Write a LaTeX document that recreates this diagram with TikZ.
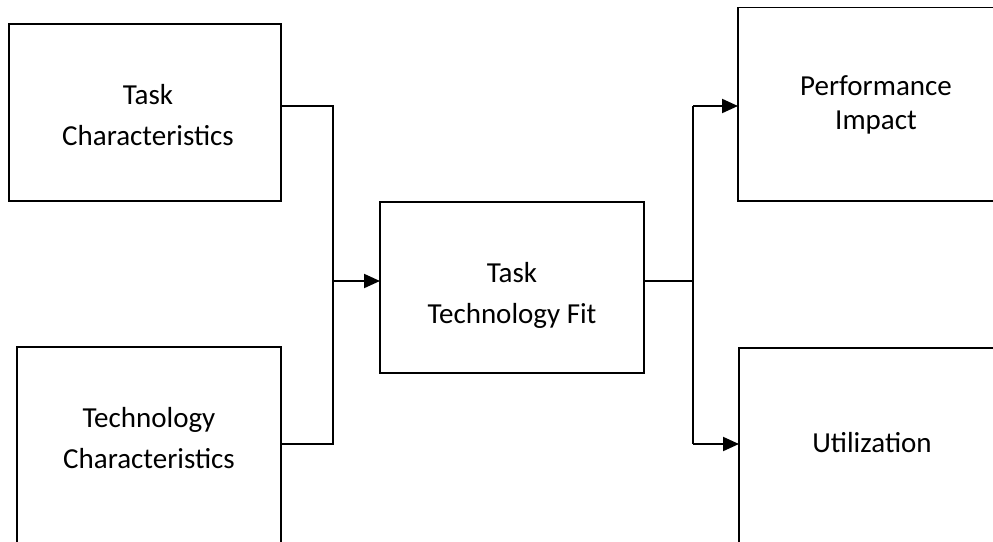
\documentclass[tikz,border=0pt]{standalone}
\usepackage{fontspec}
\setmainfont{Carlito}
\usetikzlibrary{arrows.meta}
\begin{document}
\begin{tikzpicture}[x=1pt,y=-1pt,
  box/.style={draw, line width=1.6pt, inner sep=0pt, outer sep=0pt},
  lbl/.style={align=center, inner sep=0pt, font=\fontsize{29}{41}\selectfont},
  link/.style={line width=1.5pt},
  arr/.style={line width=2pt, -{Triangle[length=16pt,width=14pt]}}]
\useasboundingbox (0,0) rectangle (993,541);
\clip (0,0) rectangle (993,541);

% boxes
\node[box, minimum width=272pt, minimum height=177pt] (tc) at (145,112.5) {};
\node[box, minimum width=264pt, minimum height=253pt] (tec) at (149,473.5) {};
\node[box, minimum width=264pt, minimum height=171pt] (ttf) at (512,287.5) {};
\node[box, minimum width=292pt, minimum height=193.5pt] (perf) at (884,104.25) {};
\node[box, minimum width=292pt, minimum height=252pt] (util) at (885,474) {};

% labels
\node[lbl] (tcl) at (148,115) {Task\\Characteristics};
\node[lbl] (tecl) at (149,438) {Technology\\Characteristics};
\node[lbl] (ttfl) at (512,295) {Task\\Technology Fit};
\node[lbl, font=\fontsize{29}{34}\selectfont] (perfl) at (876,104.5) {Performance\\Impact};
\node[lbl] (utill) at (872,443) {Utilization};

% junction points
\coordinate (jt) at (333,106);
\coordinate (jm) at (333,281);
\coordinate (jb) at (333,444);
\coordinate (rt) at (693,106);
\coordinate (rm) at (693,281);
\coordinate (rb) at (693,444);

% inputs into the fit box
\draw[link] (jt -| tc.east) -- (jt) -- (jb) -- (jb -| tec.east);
\draw[arr] (jm) -- (jm -| ttf.west);

% outputs of the fit box
\draw[link] (rm -| ttf.east) -- (rm);
\draw[link] (rt) -- (rb);
\draw[arr] (rt) -- (rt -| perf.west);
\draw[arr] (rb) -- (rb -| util.west);
\end{tikzpicture}
\end{document}
